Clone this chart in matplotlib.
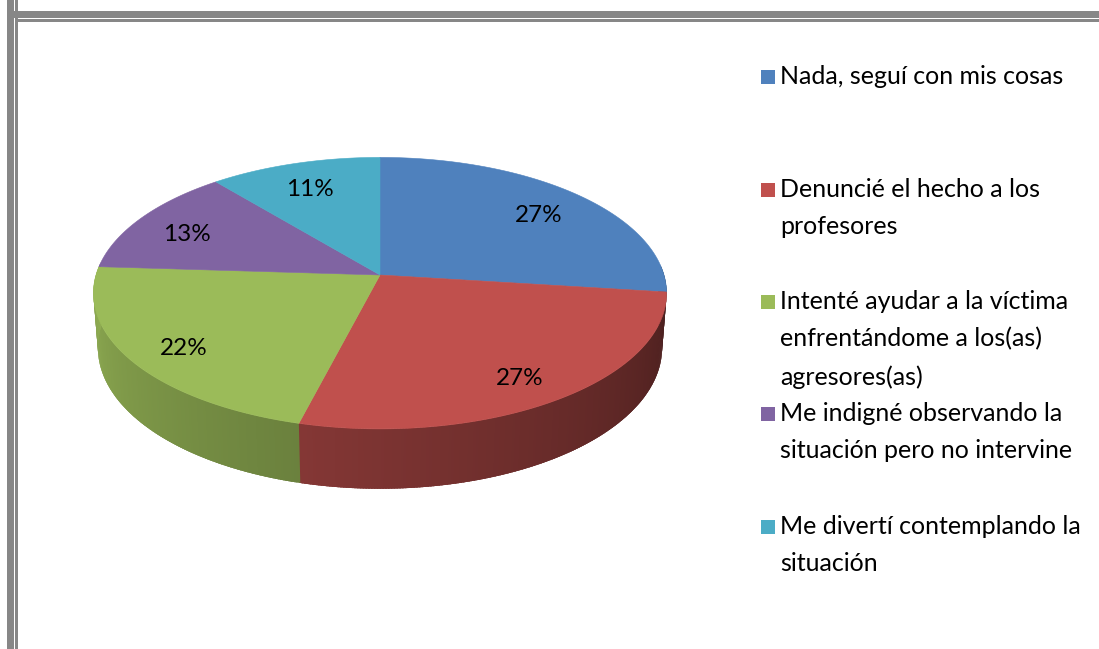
import matplotlib
matplotlib.use("Agg")
import matplotlib.pyplot as plt
import numpy as np
from matplotlib.patches import Polygon, Rectangle
from matplotlib.colors import to_rgb

# Respuestas (porcentaje)
categorias = [
    "Nada, seguí con mis cosas",
    "Denuncié el hecho a los\nprofesores",
    "Intenté ayudar a la víctima\nenfrentándome a los(as)\nagresores(as)",
    "Me indigné observando la\nsituación pero no intervine",
    "Me divertí contemplando la\nsituación",
]
valores = [27, 27, 22, 13, 11]
etiquetas = ["27%", "27%", "22%", "13%", "11%"]
colores = ["#4F81BD", "#C0504D", "#9BBB59", "#8064A2", "#4BACC6"]

W, H = 1099, 649
CX, CY, ESC = 380, 275, 284     # centro del pastel (px) y escala px/unidad

# proyección en perspectiva
ELEV = np.radians(28)
DIST = 6.6
ALTO = 0.22


def proyectar(x, y, z):
    w = y * np.cos(ELEV) - z * np.sin(ELEV)
    v = y * np.sin(ELEV) + z * np.cos(ELEV)
    f = DIST / (DIST + w)
    return x * f, v * f


plt.rcParams['font.family'] = ['Lato', 'DejaVu Sans']

fig = plt.figure(figsize=(W / 100, H / 100), dpi=100, facecolor='white')
ax = fig.add_axes([0, 0, 1, 1])
ax.set_xlim(-CX / ESC, (W - CX) / ESC)
ax.set_ylim(-(H - CY) / ESC, CY / ESC)
ax.axis('off')

# ángulos de cada porción (desde las 12, sentido horario)
frac = np.array(valores) / np.sum(valores)
bordes = 90 - 360 * np.concatenate([[0], np.cumsum(frac)])

# paredes laterales visibles (parte delantera), en tiras solapadas
for i, col in enumerate(colores):
    a0, a1 = bordes[i], bordes[i + 1]
    ts = np.linspace(a0, a1, max(int(abs(a1 - a0) * 2), 2))
    base = np.array(to_rgb(col))
    for j, (t0, t1) in enumerate(zip(ts[:-1], ts[1:])):
        tm = (t0 + t1) / 2
        if np.sin(np.radians(tm)) > 0.08:
            continue
        phi = tm % 360
        if phi < 90:
            phi += 360
        k = np.clip(0.92 - 0.52 * (phi - 180) / 170, 0.38, 0.95)
        t1e = t1 - 0.8 if j < len(ts) - 2 else t1
        r0, r1 = np.radians(t0), np.radians(t1e)
        pts = [proyectar(np.cos(r0), np.sin(r0), 0),
               proyectar(np.cos(r1), np.sin(r1), 0),
               proyectar(np.cos(r1), np.sin(r1), -ALTO),
               proyectar(np.cos(r0), np.sin(r0), -ALTO)]
        c = base * k
        ax.add_patch(Polygon(pts, closed=True, facecolor=c, edgecolor='none',
                             zorder=1))

# caras superiores
for i, col in enumerate(colores):
    a0, a1 = bordes[i], bordes[i + 1]
    ts = np.radians(np.linspace(a0, a1, 200))
    pts = [proyectar(0, 0, 0)] + [proyectar(np.cos(t), np.sin(t), 0) for t in ts]
    ax.add_patch(Polygon(pts, closed=True, facecolor=col, edgecolor=col,
                         linewidth=0.4, zorder=2))

# etiquetas de porcentaje
for i, txt in enumerate(etiquetas):
    tm = np.radians((bordes[i] + bordes[i + 1]) / 2)
    x, y = proyectar(0.8 * np.cos(tm), 0.8 * np.sin(tm), -0.025)
    ax.text(x, y, txt, ha='center', va='center', fontsize=17.5, color='black',
            zorder=3)

# leyenda
ley_y = [77, 190, 302, 414, 527]
for y0, cat, col in zip(ley_y, categorias, colores):
    fig.add_artist(Rectangle((761 / W, 1 - (y0 + 7) / H), 14 / W, 14 / H,
                             transform=fig.transFigure, facecolor=col,
                             edgecolor='none'))
    fig.text(780 / W, 1 - (y0 - 12) / H, cat, ha='left', va='top',
             fontsize=18, color='black', linespacing=1.74)

# marco doble gris
gris = '#878787'
fig.add_artist(Rectangle((7 / W, -0.1), 7 / W, 1.2, transform=fig.transFigure,
                         facecolor=gris, edgecolor='none'))
fig.add_artist(Rectangle((7 / W, 1 - 18 / H), 2, 7 / H, transform=fig.transFigure,
                         facecolor=gris, edgecolor='none'))
fig.add_artist(Rectangle((15 / W, -0.1), 2.5 / W, 1.2, transform=fig.transFigure,
                         facecolor=gris, edgecolor='none'))
fig.add_artist(Rectangle((15 / W, 1 - 21.5 / H), 2, 2.5 / H,
                         transform=fig.transFigure, facecolor=gris,
                         edgecolor='none'))

fig.savefig("out.png", dpi=100, facecolor='white')
